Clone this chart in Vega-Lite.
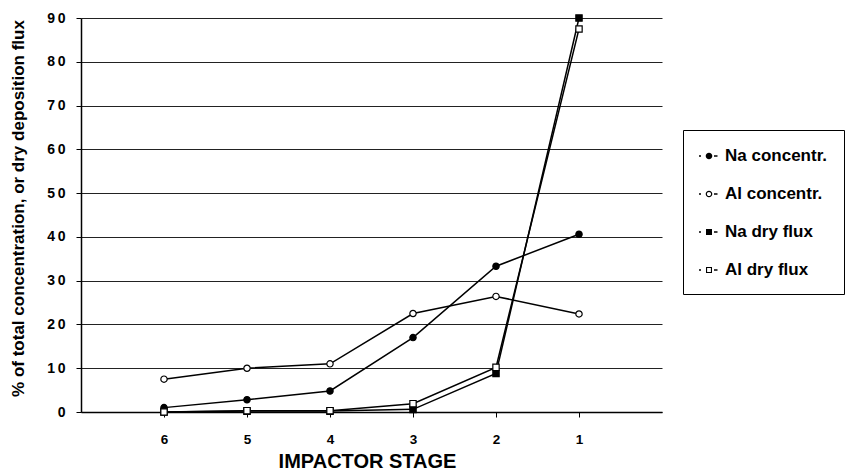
{
  "$schema": "https://vega.github.io/schema/vega-lite/v6.json",
  "autosize": "none",
  "width": 581,
  "height": 394,
  "padding": {"left": 81, "top": 18, "right": 206, "bottom": 60},
  "background": "white",
  "config": {
    "view": {"stroke": null},
    "font": "Liberation Sans"
  },
  "data": {
    "values": [
      {"series": "Na concentr.", "stage": 6, "value": 1.0},
      {"series": "Na concentr.", "stage": 5, "value": 2.8},
      {"series": "Na concentr.", "stage": 4, "value": 4.8},
      {"series": "Na concentr.", "stage": 3, "value": 17.0},
      {"series": "Na concentr.", "stage": 2, "value": 33.3},
      {"series": "Na concentr.", "stage": 1, "value": 40.6},
      {"series": "Al concentr.", "stage": 6, "value": 7.5},
      {"series": "Al concentr.", "stage": 5, "value": 10.0},
      {"series": "Al concentr.", "stage": 4, "value": 11.0},
      {"series": "Al concentr.", "stage": 3, "value": 22.5},
      {"series": "Al concentr.", "stage": 2, "value": 26.4},
      {"series": "Al concentr.", "stage": 1, "value": 22.4},
      {"series": "Na dry flux", "stage": 6, "value": 0.0},
      {"series": "Na dry flux", "stage": 5, "value": 0.2},
      {"series": "Na dry flux", "stage": 4, "value": 0.2},
      {"series": "Na dry flux", "stage": 3, "value": 0.6},
      {"series": "Na dry flux", "stage": 2, "value": 8.8},
      {"series": "Na dry flux", "stage": 1, "value": 90.0},
      {"series": "Al dry flux", "stage": 6, "value": 0.0},
      {"series": "Al dry flux", "stage": 5, "value": 0.3},
      {"series": "Al dry flux", "stage": 4, "value": 0.3},
      {"series": "Al dry flux", "stage": 3, "value": 1.9},
      {"series": "Al dry flux", "stage": 2, "value": 10.2},
      {"series": "Al dry flux", "stage": 1, "value": 87.5}
    ]
  },
  "encoding": {
    "x": {
      "field": "stage",
      "type": "quantitative",
      "scale": {"domain": [0, 7], "reverse": true, "nice": false, "zero": false},
      "axis": {
        "values": [1, 2, 3, 4, 5, 6],
        "format": "d",
        "grid": false,
        "domain": true,
        "domainColor": "black",
        "domainWidth": 1.5,
        "tickColor": "black",
        "tickSize": 5,
        "labelFont": "Liberation Sans",
        "labelFontWeight": "bold",
        "labelFontSize": 13.5,
        "labelColor": "black",
        "labelPadding": 15,
        "title": "IMPACTOR STAGE",
        "titleFont": "Liberation Sans",
        "titleFontWeight": "bold",
        "titleFontSize": 20,
        "titleColor": "black",
        "titleX": 286,
        "titleY": 39,
        "titleAlign": "center",
        "titleBaseline": "top"
      }
    },
    "y": {
      "field": "value",
      "type": "quantitative",
      "scale": {"domain": [0, 90], "nice": false},
      "axis": {
        "values": [0, 10, 20, 30, 40, 50, 60, 70, 80, 90],
        "labelExpr": "datum.value >= 10 ? substring(datum.label, 0, 1) + '\u2009' + substring(datum.label, 1) : datum.label",
        "grid": true,
        "gridColor": "#222222",
        "gridWidth": 1,
        "domain": true,
        "domainColor": "black",
        "domainWidth": 1.5,
        "tickColor": "black",
        "tickSize": 5,
        "labelFont": "Liberation Sans",
        "labelFontWeight": "bold",
        "labelFontSize": 14,
        "labelColor": "black",
        "labelPadding": 11,
        "title": "% of total concentration, or dry deposition flux",
        "titleFont": "Liberation Sans",
        "titleFontWeight": "bold",
        "titleFontSize": 17,
        "titleColor": "black",
        "titleX": -63,
        "titleY": 190,
        "titleAlign": "center",
        "titleBaseline": "middle",
        "titleAngle": -90
      }
    }
  },
  "layer": [
    {
      "mark": {"type": "line", "color": "black", "strokeWidth": 1.5},
      "encoding": {
        "detail": {"field": "series", "type": "nominal"}
      }
    },
    {
      "mark": {"type": "point", "filled": false, "stroke": "black", "strokeWidth": 1.2, "opacity": 1},
      "encoding": {
        "shape": {
          "field": "series",
          "type": "nominal",
          "scale": {
            "domain": ["Na concentr.", "Al concentr.", "Na dry flux", "Al dry flux"],
            "range": ["circle", "circle", "square", "square"]
          },
          "legend": null
        },
        "fill": {
          "field": "series",
          "type": "nominal",
          "scale": {
            "domain": ["Na concentr.", "Al concentr.", "Na dry flux", "Al dry flux"],
            "range": ["black", "white", "black", "white"]
          },
          "legend": null
        },
        "size": {"value": 40}
      }
    },
    {
      "mark": {"type": "point", "filled": true, "color": "black", "opacity": 0},
      "encoding": {
        "shape": {
          "field": "series",
          "type": "nominal",
          "scale": {
            "domain": ["Na concentr.", "Al concentr.", "Na dry flux", "Al dry flux"],
            "range": [
              "M-1,-0.08H-0.8V0.08H-1Z M0.5,-0.08H0.85V0.08H0.5Z M0.33,0A0.33,0.33 0 1,1 -0.33,0A0.33,0.33 0 1,1 0.33,0Z",
              "M-1,-0.08H-0.8V0.08H-1Z M0.5,-0.08H0.85V0.08H0.5Z M0.33,0A0.33,0.33 0 1,1 -0.33,0A0.33,0.33 0 1,1 0.33,0Z M0.21,0A0.21,0.21 0 1,0 -0.21,0A0.21,0.21 0 1,0 0.21,0Z",
              "M-1,-0.08H-0.8V0.08H-1Z M0.5,-0.08H0.85V0.08H0.5Z M-0.3,-0.3H0.3V0.3H-0.3Z",
              "M-1,-0.08H-0.8V0.08H-1Z M0.5,-0.08H0.85V0.08H0.5Z M-0.3,-0.3H0.3V0.3H-0.3Z M-0.19,-0.19V0.19H0.19V-0.19Z"
            ]
          },
          "legend": {
            "title": null,
            "orient": "none",
            "legendX": 602,
            "legendY": 112,
            "strokeColor": "black",
            "padding": 16,
            "rowPadding": 20,
            "symbolSize": 400,
            "symbolOpacity": 1,
            "symbolFillColor": "black",
            "symbolStrokeWidth": 0,
            "labelFont": "Liberation Sans",
            "labelFontWeight": "bold",
            "labelFontSize": 17,
            "labelColor": "black",
            "labelOffset": 6,
            "labelLimit": 300
          }
        },
        "size": {"value": 400}
      }
    }
  ],
  "resolve": {"scale": {"shape": "independent"}, "legend": {"shape": "independent"}}
}
